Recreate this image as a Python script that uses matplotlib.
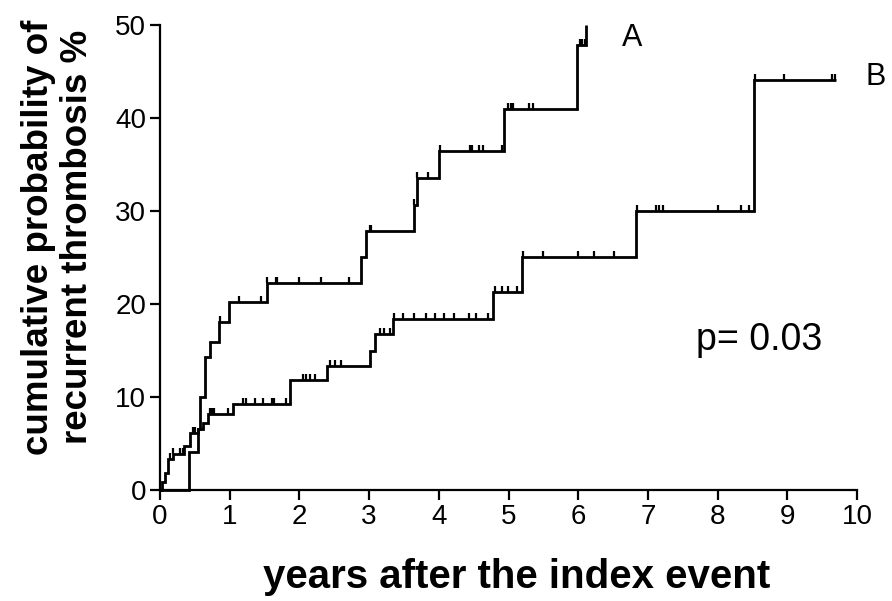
import numpy as np
import matplotlib
matplotlib.use("Agg")
import matplotlib.pyplot as plt
from matplotlib.path import Path

# step curve A: event times (years) and cumulative probability (%) after each step
a_times = [0, 0.41, 0.55, 0.57, 0.65, 0.72, 0.84, 0.99, 1.53, 2.89, 2.96,
           3.64, 3.68, 4.0, 4.94, 5.98, 6.11]
a_values = [0, 4.1, 6.6, 10.0, 14.3, 15.9, 18.1, 20.2, 22.3, 25.0, 27.8,
            30.6, 33.5, 36.4, 41.0, 47.8, 50.0]
a_end = 6.11
a_censored = [0.86, 1.14, 1.45, 1.53, 1.66, 1.68, 1.99, 2.31, 2.71, 3.01, 3.03,
              3.65, 3.69, 3.85, 4.01, 4.45, 4.48, 4.58, 4.64, 4.9, 4.99, 5.04,
              5.06, 5.3, 5.35, 6.02, 6.05, 6.09]

# step curve B
b_times = [0, 0.03, 0.07, 0.11, 0.18, 0.35, 0.43, 0.55, 0.62, 0.69, 1.05, 1.86,
           2.39, 3.01, 3.08, 3.34, 4.78, 5.2, 6.83, 8.52]
b_values = [0, 0.9, 1.8, 3.3, 3.9, 4.7, 6.1, 6.6, 7.2, 8.2, 9.2, 11.8,
            13.3, 14.9, 16.8, 18.4, 21.3, 25.1, 30.0, 44.1]
b_end = 9.7
b_censored = [0.14, 0.19, 0.29, 0.33, 0.47, 0.5, 0.72, 0.75, 0.78, 0.97, 1.19,
              1.24, 1.36, 1.48, 1.6, 1.63, 1.81, 2.05, 2.1, 2.15, 2.22, 2.44,
              2.51, 2.6, 3.15, 3.22, 3.3, 3.36, 3.49, 3.65, 3.82, 3.95, 4.07,
              4.22, 4.44, 4.54, 4.7, 4.8, 4.9, 4.99, 5.12, 5.21, 5.49, 5.99,
              6.23, 6.51, 6.85, 7.11, 7.16, 7.21, 8.01, 8.33, 8.45, 8.54, 8.95,
              9.64, 9.69]

x_ticks = list(range(0, 11))
y_ticks = [0, 10, 20, 30, 40, 50]

plt.rcParams["font.family"] = ["Liberation Sans", "DejaVu Sans"]

fig = plt.figure(figsize=(8.92, 6.01), dpi=100)
ax = fig.add_axes([0.1794, 0.1847, 0.7814, 0.7737])

# censor tick: short vertical stroke pointing up from the line
tick_up = Path([(0, 0), (0, 1)], [Path.MOVETO, Path.LINETO])


def draw_curve(times, values, end, censored):
    xs = list(times) + [end]
    ys = list(values) + [values[-1]]
    ax.step(xs, ys, where="post", color="black", lw=2.0, clip_on=False,
            solid_capstyle="butt", solid_joinstyle="miter")
    idx = np.searchsorted(times, censored, side="right") - 1
    cy = np.array(values)[idx]
    ax.plot(censored, cy, linestyle="none", marker=tick_up, markersize=8,
            markeredgewidth=1.6, color="black", clip_on=False)


draw_curve(a_times, a_values, a_end, a_censored)
draw_curve(b_times, b_values, b_end, b_censored)

ax.set_xlim(0, 10)
ax.set_ylim(0, 50)
ax.set_xticks(x_ticks)
ax.set_yticks(y_ticks)
ax.spines["top"].set_visible(False)
ax.spines["right"].set_visible(False)
for s in ("left", "bottom"):
    ax.spines[s].set_linewidth(1.6)
ax.tick_params(direction="out", length=7, width=1.6, labelsize=20, pad=3)

ax.text(6.78, 48.6, "A", fontsize=22, ha="center", va="center")
ax.text(10.27, 44.4, "B", fontsize=22, ha="center", va="center", clip_on=False)
ax.text(7.69, 16.1, "p= 0.03", fontsize=27, ha="left", va="center")

fig.text(58 / 892, 1 - 237 / 601, "cumulative probability of\nrecurrent thrombosis %",
         rotation=90, ha="center", va="center", multialignment="center",
         fontsize=26.5, fontweight="bold", linespacing=1.12)
fig.text(517 / 892, 1 - 577 / 601, "years after the index event",
         ha="center", va="center", fontsize=29, fontweight="bold")

fig.savefig("out.png", dpi=100)
